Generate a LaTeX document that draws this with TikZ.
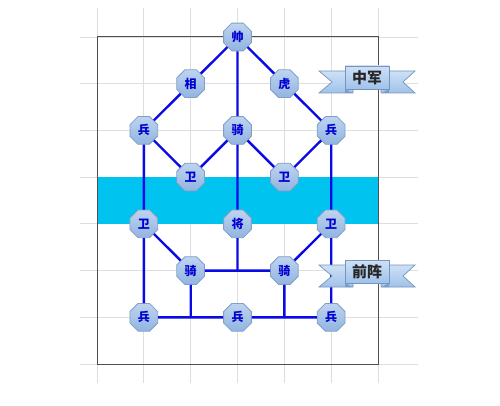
\documentclass[tikz,border=0pt]{standalone}
\usepackage{fontspec}
\newfontfamily\cjk{Noto Sans CJK SC}
\usetikzlibrary{shapes.geometric}
\definecolor{band}{RGB}{0,195,240}
\definecolor{gridc}{RGB}{222,222,222}
\definecolor{boxc}{RGB}{80,80,80}
\definecolor{edgec}{RGB}{10,10,230}
\definecolor{nodetop}{RGB}{190,212,240}
\definecolor{nodebot}{RGB}{145,180,224}
\definecolor{nodeborder}{RGB}{128,158,200}
\definecolor{textblue}{RGB}{0,0,210}
\definecolor{ribtop}{RGB}{206,224,246}
\definecolor{ribbot}{RGB}{160,194,234}
\definecolor{ribborder}{RGB}{118,148,190}
\definecolor{ribdark}{RGB}{120,156,204}
\newcommand\myribbon[4]{%
  \begin{scope}[shift={(#1,#2)}]
    \draw[ribstyle] (-14,-7) -- (-48,-7) -- (-35,4) -- (-48,15) -- (-14,15) -- cycle;
    \draw[ribstyle] (14,-7) -- (48,-7) -- (36,4) -- (48,15) -- (14,15) -- cycle;
    \fill[ribdark] (-22,11) -- (-15,15) -- (-22,15) -- cycle;
    \fill[ribdark] (22,11) -- (15,15) -- (22,15) -- cycle;
    \draw[ribstyle] (-22,-12) rectangle (22,11);
    \node[ribtext] (#3) at (0,0) {#4};
  \end{scope}}
\begin{document}
\begin{tikzpicture}[x=1pt,y=-1pt,
  piece/.style={regular polygon, regular polygon sides=8, minimum size=30pt,
    inner sep=0pt, draw=nodeborder, line width=0.8pt,
    top color=nodetop, bottom color=nodebot,
    font=\cjk\bfseries\fontsize{12}{12}\selectfont, text=textblue},
  link/.style={draw=edgec, line width=2.4pt},
  ribstyle/.style={draw=ribborder, line width=0.7pt, top color=ribtop, bottom color=ribbot},
  ribtext/.style={font=\cjk\bfseries\fontsize{15}{15}\selectfont, text=black!85, inner sep=0pt},
  gridline/.style={draw=gridc, line width=0.8pt}]
\useasboundingbox (0,0) rectangle (500,406);
% grid
\foreach \c in {0,...,6} \draw[gridline] ({97+\c*46.83},8) -- ({97+\c*46.83},383);
\foreach \r in {0,...,7} \draw[gridline] (80,{37+\r*46.71}) -- (418,{37+\r*46.71});
% band and frame
\fill[band] (97,177.1) rectangle (378,223.8);
\draw[boxc, line width=1pt] (97,37) rectangle (378,364);
% nodes
\node[piece] (shuai) at (237.5,37) {帅};
\node[piece] (xiang) at (190.7,83.7) {相};
\node[piece] (hu)    at (284.3,83.7) {虎};
\node[piece] (bingA) at (143.8,130.4) {兵};
\node[piece] (qiA)   at (237.5,130.4) {骑};
\node[piece] (bingB) at (331.2,130.4) {兵};
\node[piece] (weiA)  at (190.7,177.1) {卫};
\node[piece] (weiB)  at (284.3,177.1) {卫};
\node[piece] (weiC)  at (143.8,223.8) {卫};
\node[piece] (jiang) at (237.5,223.8) {将};
\node[piece] (weiD)  at (331.2,223.8) {卫};
\node[piece] (qiB)   at (190.7,270.6) {骑};
\node[piece] (qiC)   at (284.3,270.6) {骑};
\node[piece] (bingC) at (143.8,317.3) {兵};
\node[piece] (bingD) at (237.5,317.3) {兵};
\node[piece] (bingE) at (331.2,317.3) {兵};
\coordinate (jA) at (237.5,270.6);
\coordinate (jB) at (190.7,317.3);
\coordinate (jC) at (284.3,317.3);
% links
\path[link] (shuai) -- (xiang);
\path[link] (shuai) -- (hu);
\path[link] (shuai) -- (qiA);
\path[link] (xiang) -- (bingA);
\path[link] (hu) -- (bingB);
\path[link] (bingA) -- (weiA);
\path[link] (qiA) -- (weiA);
\path[link] (qiA) -- (weiB);
\path[link] (bingB) -- (weiB);
\path[link] (bingA) -- (weiC);
\path[link] (bingB) -- (weiD);
\path[link] (qiA) -- (jiang);
\path[link] (jiang) -- (jA);
\path[link] (qiB) -- (qiC);
\path[link] (weiC) -- (qiB);
\path[link] (weiD) -- (qiC);
\path[link] (weiC) -- (bingC);
\path[link] (weiD) -- (bingE);
\path[link] (bingC) -- (bingD);
\path[link] (bingD) -- (bingE);
\path[link] (qiB) -- (jB);
\path[link] (qiC) -- (jC);
% ribbons
\myribbon{367}{78}{zhongjun}{中军}
\myribbon{367}{272}{qianzhen}{前阵}
\end{tikzpicture}
\end{document}
